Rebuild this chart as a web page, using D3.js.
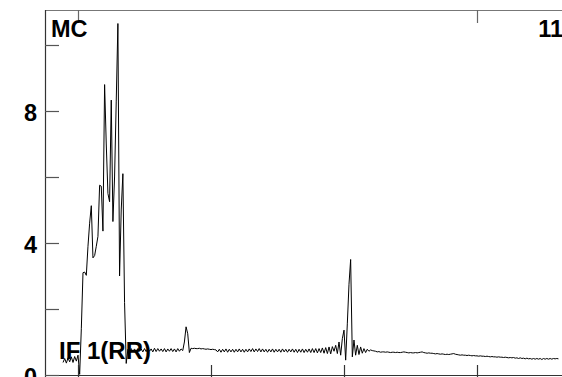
<!DOCTYPE html>
<html>
<head>
<meta charset="utf-8">
<script src="https://cdn.jsdelivr.net/npm/d3@7"></script>
<style>
html,body{margin:0;padding:0;background:#fff;overflow:hidden;}
svg{display:block;}
text{font-family:"Liberation Sans",Arial,sans-serif;font-weight:bold;fill:#000;}
</style>
</head>
<body>
<svg id="chart" width="562" height="377"></svg>
<script>
// sampling grid of the trace
const xStart = 88.75;
const xStep = 1.25;

// intensity values, segment by segment
const leadIn = [0.38,0.50,0.36,0.52,0.40,0.55,0.38,0.56,0.42,0.60];
const mainBurst = [0.02,1.40,3.10,3.12,3.02,3.90,4.60,5.13,3.55,3.62,
  3.90,4.20,5.75,5.72,4.36,8.80,7.00,5.50,5.25,8.33,
  4.65,6.00,8.30,10.65,3.00,5.00,6.10,2.20,0.35,0.78];
const baseline1 = [0.70,0.80,0.71,0.79,0.70,0.80,0.72,0.79,0.70,0.80,0.71,0.80,0.72,0.79,0.70,0.81,
  0.71,0.80,0.72,0.79,0.71,0.80,0.70,0.79,0.72,0.80,0.71,0.79,0.70,0.80,0.72,0.79,0.74];
const smallPeak = [1.00,1.46,1.25,0.68];
const plateau = [0.81,0.80,0.81,0.80,0.80,0.81,0.79,0.80,0.79,0.78,0.79,0.78,0.77,0.78,0.77,0.76];
const baseline2 = [0.70,0.78,0.69,0.78,0.70,0.79,0.69,0.78,0.70,0.78,
  0.69,0.78,0.70,0.79,0.70,0.78,0.69,0.78,0.70,0.79,
  0.71,0.80,0.70,0.79,0.71,0.80,0.70,0.79,0.70,0.78,
  0.69,0.78,0.70,0.79,0.69,0.78,0.70,0.78,0.69,0.79,
  0.70,0.78,0.69,0.78,0.70,0.79,0.69,0.78,0.68,0.78,
  0.69,0.79,0.68,0.78,0.69,0.79,0.68,0.80,0.68,0.80,
  0.67,0.80,0.68,0.82,0.66,0.83,0.65,0.85,0.64,0.86];
const secondPeak = [0.72,0.90,0.65,1.00,0.60,1.10,1.36,0.45,1.55,2.75,3.50,0.55,1.06,0.60,0.90,0.62,
  0.85,0.66,0.80,0.68,0.78,0.72,0.76,0.74,0.73];
const tail = [0.72,0.70,0.71,0.69,0.70,0.70,0.69,0.70,0.69,0.68,0.69,0.69,
  0.68,0.69,0.68,0.68,0.69,0.70,0.69,0.68,0.67,0.68,0.67,0.67,
  0.68,0.67,0.68,0.69,0.70,0.68,0.67,0.66,0.67,0.66,0.66,0.65,
  0.64,0.65,0.64,0.63,0.64,0.63,0.62,0.63,0.62,0.63,0.64,0.65,
  0.63,0.62,0.61,0.60,0.61,0.60,0.60,0.59,0.60,0.59,0.58,0.59,
  0.58,0.58,0.57,0.58,0.57,0.57,0.56,0.57,0.56,0.55,0.56,0.55,
  0.55,0.54,0.55,0.54,0.54,0.53,0.54,0.53,0.52,0.53,0.52,0.53,
  0.51,0.52,0.50,0.52,0.50,0.51,0.49,0.51,0.49,0.50,0.48,0.50,
  0.48,0.50,0.48,0.50,0.47,0.50,0.48,0.50,0.48,0.50,0.48,0.50,0.49,0.50,0.49];

const bottomTicks = [100,200,300,400];
const topTicks = [100,400];
const yTicks = [0,2,4,6,8,10];
const yLabels = [0,4,8];
const yMax = 11.06;
const cornerLeft = "MC";
const cornerRight = "11";
const traceLabel = "IF 1(RR)";

const intensity = [].concat(leadIn, mainBurst, baseline1, smallPeak, plateau, baseline2, secondPeak, tail);
const data = intensity.map((v,i)=>({x: xStart + xStep*i, y: v}));

const svg = d3.select("#chart");
const pLeft = 45, pTop = 10, pBottom = 375, pRight = 562;

const x = d3.scaleLinear().domain([100,400]).range([78,477]);
const y = d3.scaleLinear().domain([0,yMax]).range([pBottom, pTop]);

// trace
svg.append("path")
  .datum(data)
  .attr("fill","none")
  .attr("stroke","#000")
  .attr("stroke-width",1)
  .attr("d", d3.line().x(d=>x(d.x)).y(d=>y(d.y)));

// top frame line and ticks
svg.append("line").attr("x1",pLeft).attr("x2",pRight).attr("y1",pTop+0.5).attr("y2",pTop+0.5)
  .attr("stroke","#777").attr("stroke-width",1.2);
svg.selectAll(".tt").data(topTicks).enter().append("line")
  .attr("x1",d=>Math.round(x(d))+0.5).attr("x2",d=>Math.round(x(d))+0.5)
  .attr("y1",pTop).attr("y2",pTop+13).attr("stroke","#666").attr("stroke-width",1.2);

// bottom axis
svg.append("line").attr("x1",pLeft).attr("x2",pRight).attr("y1",pBottom+0.5).attr("y2",pBottom+0.5)
  .attr("stroke","#333").attr("stroke-width",1.2);
svg.selectAll(".bt").data(bottomTicks).enter().append("line")
  .attr("x1",d=>Math.round(x(d))+0.5).attr("x2",d=>Math.round(x(d))+0.5)
  .attr("y1",pBottom-10).attr("y2",pBottom+10).attr("stroke","#333").attr("stroke-width",1.2);

// left axis
svg.append("line").attr("x1",pLeft+0.5).attr("x2",pLeft+0.5).attr("y1",pTop).attr("y2",377)
  .attr("stroke","#333").attr("stroke-width",1.2);
svg.selectAll(".lt").data(yTicks).enter().append("line")
  .attr("x1",pLeft).attr("x2",pLeft+14)
  .attr("y1",d=>Math.round(y(d))+0.5).attr("y2",d=>Math.round(y(d))+0.5)
  .attr("stroke","#555").attr("stroke-width",1.2);
svg.selectAll(".ll").data(yLabels).enter().append("text")
  .attr("x",37).attr("y",d=>y(d)+10)
  .attr("text-anchor","end").attr("font-size",23.5)
  .text(d=>d);

// corner and trace labels
svg.append("text").attr("x",51).attr("y",37).attr("font-size",23.5).text(cornerLeft);
svg.append("text").attr("x",563).attr("y",37).attr("font-size",23.5).attr("text-anchor","end").text(cornerRight);
svg.append("text").attr("x",59).attr("y",359).attr("font-size",24).text(traceLabel);
</script>
</body>
</html>
